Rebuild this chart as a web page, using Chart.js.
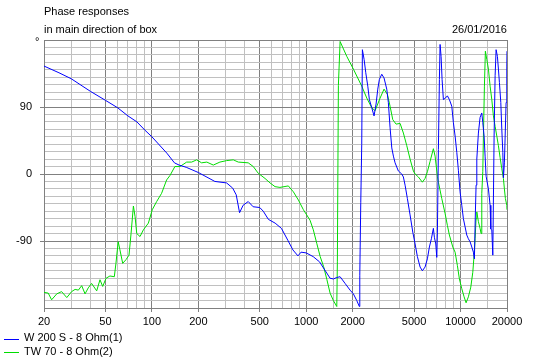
<!DOCTYPE html>
<html><head><meta charset="utf-8">
<script src="https://cdn.jsdelivr.net/npm/chart.js@4"></script>
<style>
html,body{margin:0;padding:0;background:#fff;}
#wrap{position:relative;width:544px;height:361px;overflow:hidden;font-family:"Liberation Sans",Arial,sans-serif;font-size:11px;color:#000;}
canvas{position:absolute;left:0;top:0;}
.t{position:absolute;white-space:nowrap;line-height:13px;}
.sw{position:absolute;height:1px;width:15px;}
</style></head>
<body><div id="wrap">
<canvas id="c" width="544" height="361"></canvas>
<div class="t" style="left:44px;top:5px">Phase responses</div>
<div class="t" style="left:44px;top:23px">in main direction of box</div>
<div class="t" style="right:37px;top:23px">26/01/2016</div>
<div class="t" style="left:35px;top:35px">°</div>
<div class="sw" style="left:4px;top:339px;background:#0000ff"></div>
<div class="t" style="left:24px;top:331px">W 200 S - 8 Ohm(1)</div>
<div class="sw" style="left:4px;top:352px;background:#00dd00"></div>
<div class="t" style="left:24px;top:345px">TW 70 - 8 Ohm(2)</div>
</div>
<script>
const seriesNames = ['W 200 S - 8 Ohm(1)', 'TW 70 - 8 Ohm(2)'];

const freqW = [20,25,30,40,50,60,70,80,90,100,125,140,150,167,200,256,305,334,352,370,390,421,453,500,527,569,629,691,760,820,884,926,1000,1110,1220,1320,1428,1500,1578,1658,1786,1924,2021,2126,2210,2224,2257,2290,2312,2372,2432,2506,2566,2660,2752,2836,2909,2978,3088,3194,3326,3406,3495,3585,3672,3766,3956,4160,4262,4372,4524,4710,4903,5077,5254,5470,5658,5890,6097,6283,6473,6668,6768,6911,7016,7080,7186,7294,7370,7481,7593,7741,7976,8217,8467,8776,8988,9221,9458,9685,9931,10186,10434,10701,10975,11242,11530,11825,12113,12296,12481,12611,12745,13052,13387,13731,13938,14212,14426,14641,15157,15544,15706,15942,16182,16500,16749,17000,17334,17594,17858,18236,18510,18789,18958,19240,19733,19940,20000];
const phaseW = [145,136,128,111,99,89,78,70,59,50,28,15,12,9,2,-10,-12,-19,-28,-52,-42,-37,-44,-45,-50,-61,-66,-73,-89,-102,-110,-105,-106,-111,-118,-129,-140,-141,-139,-138,-147,-156,-161,-170,-178,-136,-38,40,167,154,136,118,100,89,78,94,114,127,134,129,114,96,62,35,24,15,4,0,-4,-15,-33,-55,-78,-94,-111,-125,-130,-125,-114,-98,-87,-73,-85,-94,-112,-78,33,127,174,158,127,100,102,105,100,91,69,51,29,5,-24,-42,-60,-71,-82,-87,-91,-98,-105,-114,-51,-15,20,55,76,82,69,51,24,-3,-20,-42,-74,-75,-109,51,132,167,158,141,123,96,60,29,-5,15,96,145,165];

const freqTW = [20,21.3,22.4,24.2,26,28.1,30.2,31.8,33.4,35.1,36.9,38.7,40.7,43.9,46.1,48,50.5,53.5,57.1,58.5,60.5,62.1,64.7,68,71.1,73.3,75.9,77.8,79.8,83.8,88.1,94.9,100.6,107.4,115.6,124.6,131,141,152,168,181,195,210,227,250,276,305,337,363,421,454,489,541,583,628,676,766,826,890,959,1058,1112,1170,1232,1295,1362,1428,1500,1578,1592,1616,1658,1832,2021,2290,2469,2660,2794,3011,3194,3358,3495,3638,3823,4058,4262,4484,4710,4948,5077,5333,5658,5890,6097,6349,6668,6840,7080,7186,7560,7940,8217,8467,8908,9221,9542,9831,10186,10544,10862,11242,11652,12005,12242,12425,12611,12745,13052,13387,13588,13731,13938,14066,14277,14488,14795,15157,15544,15942,16328,16749,17178,17594,18042,18510,18958,19240,19527,19940,20000];
const phaseTW = [-159,-160,-169,-161,-158,-166,-158,-155,-156,-150,-161,-153,-147,-157,-142,-151,-140,-137,-138,-120,-91,-102,-120,-115,-109,-80,-43,-57,-80,-84,-75,-66,-48,-37,-26,-8,-2,10,10,16,16,19,15,16,12,16,18,19,16,15,10,1,-6,-12,-17,-18,-16,-24,-35,-48,-62,-75,-93,-111,-124,-142,-160,-170,-178,-118,119,178,158,141,118,102,89,85,102,114,107,91,73,67,68,55,38,20,4,0,-4,-11,-6,3,17,34,24,-3,-11,-33,-53,-69,-82,-98,-105,-123,-141,-154,-165,-173,-165,-152,-132,-109,-87,-60,-51,-64,-73,-80,-26,3,51,118,165,154,141,118,100,78,64,51,38,22,7,-6,-20,-33,-42,-48];

const gridFreqs = [20,30,40,50,60,70,80,90,100,150,200,300,400,500,600,700,800,900,1000,1500,2000,3000,4000,5000,6000,7000,8000,9000,10000,15000,20000];
const labelFreqs = [20,50,100,200,500,1000,2000,5000,10000,20000];
const phaseLabels = [90,0,-90];

const toPts = (f, p) => f.map((v, i) => ({x: v, y: p[i]}));
const FONT = {family: '"Liberation Sans", Arial, sans-serif', size: 11};

new Chart(document.getElementById('c'), {
  type: 'line',
  data: {datasets: [
    {label: seriesNames[0], data: toPts(freqW, phaseW), borderColor: '#0000ff', borderWidth: 1, pointRadius: 0, tension: 0, fill: false},
    {label: seriesNames[1], data: toPts(freqTW, phaseTW), borderColor: '#00dd00', borderWidth: 1, pointRadius: 0, tension: 0, fill: false}
  ]},
  options: {
    responsive: false, animation: false, devicePixelRatio: 1,
    layout: {padding: {left: 0, right: 37, top: 40, bottom: 0}},
    plugins: {legend: {display: false}, tooltip: {enabled: false}},
    scales: {
      x: {
        type: 'logarithmic', min: 20, max: 20000,
        afterBuildTicks: s => { s.ticks = gridFreqs.map(v => ({value: v})); },
        afterFit: s => { s.height = 53; },
        ticks: {autoSkip: false, maxRotation: 0, minRotation: 0, padding: 3, color: '#000', font: FONT,
          callback: v => labelFreqs.includes(v) ? String(v) : ''},
        grid: {color: c => (c.tick && labelFreqs.includes(c.tick.value)) ? '#808080' : '#c0c0c0',
          tickLength: 4, tickColor: c => (c.tick && labelFreqs.includes(c.tick.value)) ? '#808080' : 'rgba(0,0,0,0)'},
        border: {color: '#808080'}
      },
      y: {
        min: -180, max: 180,
        afterFit: s => { s.width = 44; },
        ticks: {stepSize: 10, autoSkip: false, padding: 8, color: '#000', font: FONT,
          callback: v => phaseLabels.includes(v) ? String(v) : ''},
        grid: {color: c => (c.tick && c.tick.value % 90 === 0) ? '#808080' : '#c0c0c0',
          tickLength: 4, tickColor: c => (c.tick && phaseLabels.includes(c.tick.value)) ? '#808080' : 'rgba(0,0,0,0)'},
        border: {color: '#808080'}
      }
    }
  }
});
</script>
</body></html>
